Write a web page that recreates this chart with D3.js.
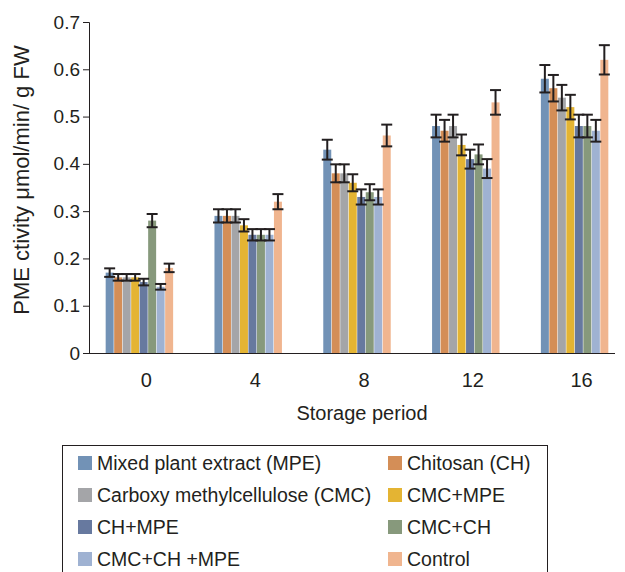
<!DOCTYPE html>
<html>
<head>
<meta charset="utf-8">
<script src="https://cdn.jsdelivr.net/npm/d3@7"></script>
<style>
  body { margin: 0; background: #fff; }
  text { font-family: "Liberation Sans", Arial, sans-serif; fill: #231f20; }
</style>
</head>
<body>
<script>
const width = 625;
const height = 572;

// Storage period (days) groups
const periods = ["0", "4", "8", "12", "16"];
const treatments = [
  "Mixed plant extract (MPE)", "Chitosan (CH)", "Carboxy methylcellulose (CMC)", "CMC+MPE",
  "CH+MPE", "CMC+CH", "CMC+CH +MPE", "Control"
];
const colors = ["#7292b6", "#d48e57", "#a4a5a8", "#e4b433", "#67799f", "#87997c", "#9fb2d2", "#f0b58f"];

// values per treatment, in order of periods
const mpe     = [0.17, 0.29, 0.43, 0.48, 0.58];
const ch      = [0.16, 0.29, 0.38, 0.47, 0.56];
const cmc     = [0.16, 0.29, 0.38, 0.48, 0.54];
const cmcMpe  = [0.16, 0.27, 0.36, 0.44, 0.52];
const chMpe   = [0.15, 0.25, 0.33, 0.41, 0.48];
const cmcCh   = [0.28, 0.25, 0.34, 0.42, 0.48];
const cmcChMpe = [0.14, 0.25, 0.33, 0.39, 0.47];
const control = [0.18, 0.32, 0.46, 0.53, 0.62];

// error bar half-lengths
const mpeErr     = [0.009, 0.014, 0.021, 0.024, 0.029];
const chErr      = [0.007, 0.014, 0.019, 0.023, 0.028];
const cmcErr     = [0.007, 0.014, 0.019, 0.024, 0.027];
const cmcMpeErr  = [0.007, 0.013, 0.018, 0.022, 0.026];
const chMpeErr   = [0.007, 0.012, 0.016, 0.020, 0.024];
const cmcChErr   = [0.014, 0.012, 0.017, 0.021, 0.024];
const cmcChMpeErr = [0.006, 0.012, 0.016, 0.020, 0.023];
const controlErr = [0.009, 0.016, 0.023, 0.026, 0.031];

const yTicks = [0, 0.1, 0.2, 0.3, 0.4, 0.5, 0.6, 0.7];

const series = [mpe, ch, cmc, cmcMpe, chMpe, cmcCh, cmcChMpe, control];
const errors = [mpeErr, chErr, cmcErr, cmcMpeErr, chMpeErr, cmcChErr, cmcChMpeErr, controlErr];

const rows = [];
periods.forEach((p, i) => {
  treatments.forEach((t, k) => {
    rows.push({period: p, treatment: t, k: k, value: series[k][i], err: errors[k][i]});
  });
});

const svg = d3.select("body").append("svg")
    .attr("width", width)
    .attr("height", height);

const x0 = d3.scaleBand()
    .domain(periods)
    .range([85, 629])
    .paddingInner(0.38)
    .paddingOuter(0.19);

const x1 = d3.scaleBand()
    .domain(treatments)
    .range([0, x0.bandwidth()])
    .paddingInner(0.06);

const y = d3.scaleLinear()
    .domain([0, 0.7])
    .range([353, 22]);

// bars
svg.append("g")
  .selectAll("rect")
  .data(rows)
  .enter().append("rect")
    .attr("x", d => x0(d.period) + x1(d.treatment))
    .attr("y", d => y(d.value))
    .attr("width", x1.bandwidth())
    .attr("height", d => y(0) - y(d.value))
    .attr("fill", d => colors[d.k]);

// error bars
const eb = svg.append("g")
    .attr("stroke", "#231f20")
    .attr("stroke-width", 2);
rows.forEach(d => {
  const cx = x0(d.period) + x1(d.treatment) + x1.bandwidth() / 2;
  const cw = x1.bandwidth() / 2 + 1.5;
  eb.append("line").attr("x1", cx).attr("x2", cx)
    .attr("y1", y(d.value + d.err)).attr("y2", y(d.value - d.err));
  eb.append("line").attr("x1", cx - cw).attr("x2", cx + cw)
    .attr("y1", y(d.value + d.err)).attr("y2", y(d.value + d.err));
  eb.append("line").attr("x1", cx - cw).attr("x2", cx + cw)
    .attr("y1", y(d.value - d.err)).attr("y2", y(d.value - d.err));
});

// y axis
const yAxis = svg.append("g")
    .attr("transform", "translate(89,0)")
    .call(d3.axisLeft(y).tickValues(yTicks).tickSize(6).tickPadding(3)
      .tickFormat(d => d === 0 ? "0" : d3.format(".1f")(d)));
yAxis.select(".domain").attr("stroke", "#231f20").attr("d", "M-6,22.5H0.5V353.5");
yAxis.selectAll(".tick line").attr("stroke", "#231f20");
yAxis.selectAll("text").style("font-size", "19px").attr("fill", "#231f20");

// x axis
svg.append("line")
    .attr("x1", 89).attr("x2", 615)
    .attr("y1", 353.5).attr("y2", 353.5)
    .attr("stroke", "#231f20");

svg.append("g")
  .selectAll("text")
  .data(periods)
  .enter().append("text")
    .attr("x", d => x0(d) + x0.bandwidth() / 2 + 7)
    .attr("y", 387)
    .attr("text-anchor", "middle")
    .style("font-size", "20px")
    .text(d => d);

svg.append("text")
    .attr("x", 362)
    .attr("y", 420)
    .attr("text-anchor", "middle")
    .style("font-size", "20px")
    .text("Storage period");

svg.append("text")
    .attr("transform", "translate(29,180) rotate(-90)")
    .attr("text-anchor", "middle")
    .style("font-size", "22px")
    .text("PME ctivity μmol/min/ g FW");

// legend
svg.append("rect")
    .attr("x", 62.5).attr("y", 445.5)
    .attr("width", 485).attr("height", 140)
    .attr("fill", "none")
    .attr("stroke", "#231f20");

const legend = svg.append("g")
  .selectAll("g")
  .data(treatments)
  .enter().append("g")
    .attr("transform", (d, i) => `translate(${i % 2 === 0 ? 78 : 388},${463 + Math.floor(i / 2) * 32})`);

legend.append("rect")
    .attr("x", 0).attr("y", -7)
    .attr("width", 14).attr("height", 14)
    .attr("fill", (d, i) => colors[i]);

legend.append("text")
    .attr("x", 19)
    .attr("y", 7)
    .style("font-size", "19.5px")
    .text(d => d);
</script>
</body>
</html>
